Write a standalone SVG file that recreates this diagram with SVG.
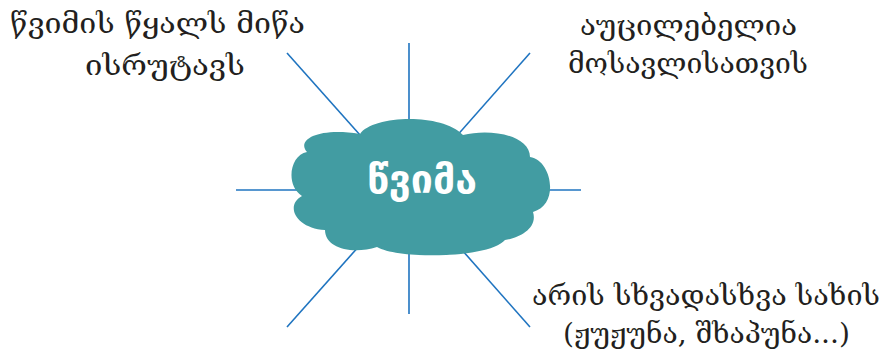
<svg xmlns="http://www.w3.org/2000/svg" width="894" height="361" viewBox="0 0 894 361">
<style>
.ray{stroke:#1f74c0;stroke-width:1.6;fill:none}
.lbl{font-family:"DejaVu Serif","DejaVu Sans",serif;font-size:28px;fill:#231f20;text-anchor:middle}
.ctr{font-family:"DejaVu Sans",sans-serif;font-weight:bold;font-size:40px;fill:#ffffff;text-anchor:middle}
</style>
<rect width="894" height="361" fill="#ffffff"/>
<g id="connectors">
<line class="ray" x1="409" y1="190" x2="409" y2="43"/>
<line class="ray" x1="409" y1="190" x2="409" y2="314"/>
<line class="ray" x1="409" y1="190" x2="236" y2="190"/>
<line class="ray" x1="409" y1="190" x2="581" y2="190"/>
<line class="ray" x1="409" y1="190" x2="287" y2="53"/>
<line class="ray" x1="409" y1="190" x2="530" y2="53"/>
<line class="ray" x1="409" y1="190" x2="287" y2="327"/>
<line class="ray" x1="409" y1="190" x2="530" y2="327"/>
</g>
<g id="center">
<path fill="#429ca2" d="M307,152 C296,140 318,127 360,134 C372,116 440,112 463,135 C490,128 530,135 530,157 C552,160 560,205 533,212 C538,228 520,238 505,240 C490,258 400,260 377,247 C352,255 325,248 325,230 C295,228 285,205 302,196 C285,185 290,155 307,152 Z"/>
<text class="ctr" x="422" y="193" textLength="110" lengthAdjust="spacingAndGlyphs">წვიმა</text>
</g>
<g id="top-left">
<text class="lbl" x="157.5" y="33" textLength="295" lengthAdjust="spacingAndGlyphs">წვიმის წყალს მიწა</text>
<text class="lbl" x="165" y="75" textLength="160" lengthAdjust="spacingAndGlyphs">ისრუტავს</text>
</g>
<g id="top-right">
<text class="lbl" x="688.5" y="35" textLength="217" lengthAdjust="spacingAndGlyphs">აუცილებელია</text>
<text class="lbl" x="688" y="73" textLength="240" lengthAdjust="spacingAndGlyphs">მოსავლისათვის</text>
</g>
<g id="bottom-right">
<text class="lbl" x="706" y="305" textLength="348" lengthAdjust="spacingAndGlyphs">არის სხვადასხვა სახის</text>
<text class="lbl" x="706.5" y="343" textLength="287" lengthAdjust="spacingAndGlyphs">(ჟუჟუნა, შხაპუნა...)</text>
</g>
</svg>
